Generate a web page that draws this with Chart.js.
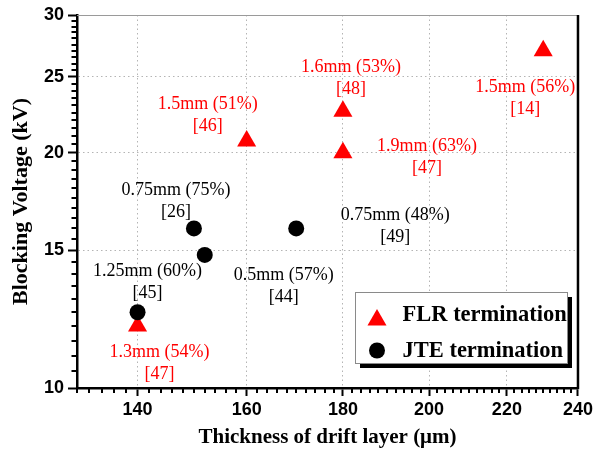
<!DOCTYPE html>
<html>
<head>
<meta charset="utf-8">
<script src="https://cdn.jsdelivr.net/npm/chart.js@4.4.1/dist/chart.umd.min.js"></script>
<style>
  html, body { margin: 0; padding: 0; background: #fff; }
  #wrap { width: 596px; height: 451px; }
</style>
</head>
<body>
<div id="wrap"><canvas id="chart"></canvas></div>
<script>
// Data
const xTicks = [140, 160, 180, 200, 220, 240];
const yTicks = [10, 15, 20, 25, 30];

const flrThickness = [140, 160, 180, 180, 230];
const flrVoltage = [12.0, 20.7, 22.6, 20.0, 27.0];
const flrNotes = [
    ['1.3mm (54%)', '[47]'],
    ['1.5mm (51%)', '[46]'],
    ['1.6mm (53%)', '[48]'],
    ['1.9mm (63%)', '[47]'],
    ['1.5mm (56%)', '[14]']
];

const jteThickness = [140, 150, 152, 170];
const jteVoltage = [12.5, 16.0, 14.8, 16.0];
const jteNotes = [
    ['1.25mm (60%)', '[45]'],
    ['0.75mm (75%)', '[26]'],
    ['0.5mm (57%)', '[44]'],
    ['0.75mm (48%)', '[49]']
];

// where each note sits relative to its point (px)
const flrNoteOffsets = [[22, 37], [-39, -26], [8, -33], [84, 5], [-18, 47]];
const jteNoteOffsets = [[10, -30], [-18, -27], [79, 31], [99, -2]];

const RED = '#ff0000';
const serif = '"Liberation Serif", "Times New Roman", serif';
const sans = '"Liberation Sans", Arial, sans-serif';

// Minor ticks, frame, notes and legend
const decorPlugin = {
    id: 'decor',
    afterDraw(chart) {
        const ctx = chart.ctx;
        const xs = chart.scales.x, ys = chart.scales.y;
        const a = chart.chartArea;

        ctx.save();
        ctx.setLineDash([]);
        // frame: thin grey top, black right
        ctx.strokeStyle = '#9a9a9a';
        ctx.lineWidth = 1;
        ctx.beginPath();
        ctx.moveTo(a.left, a.top + 0.5);
        ctx.lineTo(a.right, a.top + 0.5);
        ctx.stroke();
        ctx.strokeStyle = '#000';
        ctx.lineWidth = 2.5;
        ctx.beginPath();
        ctx.moveTo(a.right, a.top);
        ctx.lineTo(a.right, a.bottom + 1.25);
        ctx.stroke();

        // minor ticks
        ctx.lineWidth = 2;
        ctx.beginPath();
        for (let v = 130; v <= 240; v += 2) {
            if (xTicks.includes(v)) continue;
            const px = Math.round(xs.getPixelForValue(v));
            ctx.moveTo(px, a.bottom);
            ctx.lineTo(px, a.bottom + 5);
        }
        for (let v = 10; v <= 30; v += 0.5) {
            if (yTicks.includes(v)) continue;
            const py = Math.round(ys.getPixelForValue(v));
            ctx.moveTo(a.left, py);
            ctx.lineTo(a.left - 5.5, py);
        }
        ctx.stroke();

        // notes next to the points
        ctx.font = '18px ' + serif;
        ctx.textAlign = 'center';
        ctx.textBaseline = 'middle';
        const drawNotes = (xv, yv, notes, offs, color) => {
            ctx.fillStyle = color;
            notes.forEach((lines, i) => {
                const cx = xs.getPixelForValue(xv[i]) + offs[i][0];
                const cy = ys.getPixelForValue(yv[i]) + offs[i][1];
                ctx.fillText(lines[0], cx, cy - 11);
                ctx.fillText(lines[1], cx, cy + 11);
            });
        };
        drawNotes(flrThickness, flrVoltage, flrNotes, flrNoteOffsets, RED);
        drawNotes(jteThickness, jteVoltage, jteNotes, jteNoteOffsets, '#000');

        // legend box with drop shadow
        const lx = 355, ly = 292, lw = 212, lh = 71;
        ctx.fillStyle = '#000';
        ctx.fillRect(lx + 5, ly + 5, lw, lh);
        ctx.fillStyle = '#fff';
        ctx.fillRect(lx, ly, lw, lh);
        ctx.strokeStyle = '#8a8a8a';
        ctx.lineWidth = 1;
        ctx.strokeRect(lx + 0.5, ly + 0.5, lw, lh);

        // triangle marker
        const r = 11, tx = 377, ty = 320;
        ctx.fillStyle = RED;
        ctx.beginPath();
        ctx.moveTo(tx, ty - r);
        ctx.lineTo(tx + r * Math.sin(2 * Math.PI / 3), ty + r / 2);
        ctx.lineTo(tx - r * Math.sin(2 * Math.PI / 3), ty + r / 2);
        ctx.closePath();
        ctx.fill();
        // circle marker
        ctx.fillStyle = '#000';
        ctx.beginPath();
        ctx.arc(377, 350.5, 8, 0, Math.PI * 2);
        ctx.fill();

        ctx.font = 'bold 22.5px ' + serif;
        ctx.textAlign = 'left';
        ctx.textBaseline = 'alphabetic';
        ctx.fillText('FLR termination', 402.5, 320.5);
        ctx.fillText('JTE termination', 402.5, 356.5);
        ctx.restore();
    }
};

const ctx = document.getElementById('chart').getContext('2d');
const chart = new Chart(ctx, {
    type: 'scatter',
    data: {
        datasets: [
            {
                label: 'FLR termination',
                data: flrThickness.map((x, i) => ({ x: x, y: flrVoltage[i] })),
                pointStyle: 'triangle',
                pointRadius: 11,
                pointHoverRadius: 11,
                backgroundColor: RED,
                borderColor: RED,
                borderWidth: 0,
                order: 1
            },
            {
                label: 'JTE termination',
                data: jteThickness.map((x, i) => ({ x: x, y: jteVoltage[i] })),
                pointStyle: 'circle',
                pointRadius: 8,
                pointHoverRadius: 8,
                backgroundColor: '#000',
                borderColor: '#000',
                borderWidth: 0,
                order: 0
            }
        ]
    },
    options: {
        responsive: true,
        maintainAspectRatio: false,
        animation: false,
        layout: { padding: { left: 0, right: 17, top: 15, bottom: 0 } },
        plugins: {
            legend: { display: false },
            tooltip: { enabled: false }
        },
        scales: {
            x: {
                type: 'logarithmic',
                min: 130,
                max: 240,
                afterBuildTicks: (scale) => { scale.ticks = xTicks.map(v => ({ value: v })); },
                afterFit: (scale) => { scale.height = 63; },
                ticks: {
                    callback: (v) => String(v),
                    color: '#000',
                    font: { family: sans, size: 18, weight: 'bold' },
                    padding: 3,
                    maxRotation: 0,
                    autoSkip: false
                },
                grid: {
                    color: (c) => (c.tick && c.tick.value === 240) ? 'rgba(0,0,0,0)' : '#b4b4b4',
                    lineWidth: 1,
                    drawTicks: true,
                    tickLength: 8,
                    tickColor: '#000',
                    tickWidth: 2,
                    tickBorderDash: []
                },
                border: { display: true, color: '#000', width: 2.5, dash: [1.5, 3] },
                title: {
                    display: true,
                    text: 'Thickness of drift layer (μm)',
                    color: '#000',
                    font: { family: serif, size: 21, weight: 'bold' },
                    padding: { top: 1, bottom: 1 }
                }
            },
            y: {
                type: 'logarithmic',
                min: 10,
                max: 30,
                afterBuildTicks: (scale) => { scale.ticks = yTicks.map(v => ({ value: v })); },
                afterFit: (scale) => { scale.width = 77; },
                ticks: {
                    callback: (v) => String(v),
                    color: '#000',
                    font: { family: sans, size: 18, weight: 'bold' },
                    padding: 4,
                    autoSkip: false
                },
                grid: {
                    color: (c) => (c.tick && (c.tick.value === 30 || c.tick.value === 10)) ? 'rgba(0,0,0,0)' : '#b4b4b4',
                    lineWidth: 1,
                    drawTicks: true,
                    tickLength: 9,
                    tickColor: '#000',
                    tickWidth: 2,
                    tickBorderDash: []
                },
                border: { display: true, color: '#000', width: 2.5, dash: [1.5, 3] },
                title: {
                    display: true,
                    text: 'Blocking Voltage (kV)',
                    color: '#000',
                    font: { family: serif, size: 22, weight: 'bold' },
                    padding: { top: 8, bottom: 8 }
                }
            }
        }
    },
    plugins: [decorPlugin]
});
</script>
</body>
</html>
